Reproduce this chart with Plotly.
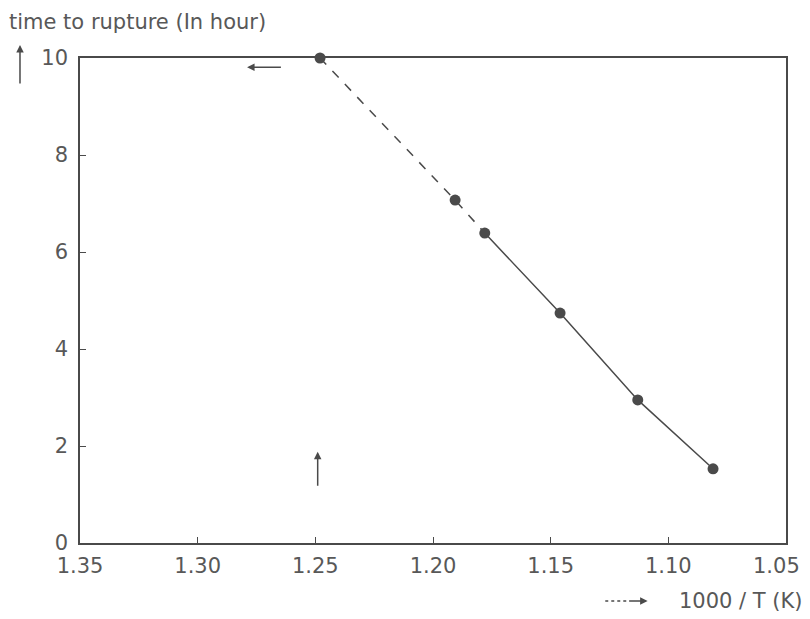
import plotly.graph_objects as go

# Data
inv_temp = [1.248, 1.1906, 1.178, 1.146, 1.113, 1.081]   # 1000/T (K)
ln_time = [10.0, 7.07, 6.39, 4.74, 2.95, 1.53]           # time to rupture (ln hour)

x_ticks = [1.35, 1.30, 1.25, 1.20, 1.15, 1.10, 1.05]
y_ticks = [0, 2, 4, 6, 8, 10]

n_dash = 3  # first points joined by the dashed part of the line

ink = "#4a4a4a"
font = dict(family="DejaVu Sans, sans-serif", size=21, color="#585858")

# the last x label is drawn as an annotation, nudged left to stay inside the window
x_ticktext = [f"{v:.2f}" for v in x_ticks]
last_label = x_ticktext[-1]
x_ticktext[-1] = ""

fig = go.Figure()
fig.add_trace(go.Scatter(
    x=inv_temp[:n_dash], y=ln_time[:n_dash], mode="lines",
    line=dict(color=ink, width=1.5, dash="dash"), showlegend=False, cliponaxis=False))
fig.add_trace(go.Scatter(
    x=inv_temp[n_dash - 1:], y=ln_time[n_dash - 1:], mode="lines",
    line=dict(color=ink, width=1.5), showlegend=False, cliponaxis=False))
fig.add_trace(go.Scatter(
    x=inv_temp, y=ln_time, mode="markers",
    marker=dict(color=ink, size=11), showlegend=False, cliponaxis=False))

fig.update_layout(
    width=810, height=619,
    margin=dict(l=72, r=32, t=50, b=84),
    paper_bgcolor="white", plot_bgcolor="white",
    font=font,
    xaxis=dict(range=[1.35, 1.05], tickvals=x_ticks, ticktext=x_ticktext,
               ticks="inside", ticklen=6, tickcolor=ink, tickwidth=1,
               showline=True, linecolor=ink, linewidth=1.5, mirror=True,
               showgrid=False, zeroline=False, tickfont=font,
               ticklabelstandoff=3),
    yaxis=dict(range=[0, 10], tickvals=y_ticks,
               ticks="inside", ticklen=6, tickcolor=ink, tickwidth=1,
               showline=True, linecolor=ink, linewidth=1.5, mirror=True,
               showgrid=False, zeroline=False, tickfont=font,
               ticklabelstandoff=6),
    shapes=[
        # dotted shaft of the arrow before the x axis title
        dict(type="line", xref="paper", yref="paper",
             x0=0.744, x1=0.775, y0=-0.1196, y1=-0.1196,
             line=dict(color=ink, width=1.5, dash="dot")),
    ],
    annotations=[
        dict(text=last_label, xref="paper", yref="paper",
             x=0.987, y=-0.0474, xanchor="center", yanchor="middle",
             showarrow=False, font=font),
        dict(text="time to rupture (In hour)", xref="paper", yref="paper",
             x=-0.103, y=1.074, xanchor="left", yanchor="middle",
             showarrow=False, font=font),
        dict(text="1000 / T (K)", xref="paper", yref="paper",
             x=1.027, y=-0.1196, xanchor="right", yanchor="middle",
             showarrow=False, font=font),
        # arrowhead of the x axis title arrow
        dict(text="", xref="paper", yref="paper", x=0.804, y=-0.1196,
             ax=-20, ay=0, showarrow=True, arrowhead=2, arrowsize=1,
             arrowwidth=1.5, arrowcolor=ink),
        # vertical arrow beside the y axis title
        dict(text="", xref="paper", yref="paper", x=-0.085, y=1.027,
             ax=0, ay=40, showarrow=True, arrowhead=2, arrowsize=1,
             arrowwidth=1.5, arrowcolor=ink),
        # left-pointing arrow near the top
        dict(text="", x=1.279, y=9.81, ax=1.264, ay=9.81, axref="x", ayref="y",
             showarrow=True, arrowhead=2, arrowsize=1, arrowwidth=1.5,
             arrowcolor=ink),
        # upward arrow near the bottom
        dict(text="", x=1.249, y=1.88, ax=1.249, ay=1.15, axref="x", ayref="y",
             showarrow=True, arrowhead=2, arrowsize=1, arrowwidth=1.5,
             arrowcolor=ink),
    ],
)

fig.write_html("out.html")
